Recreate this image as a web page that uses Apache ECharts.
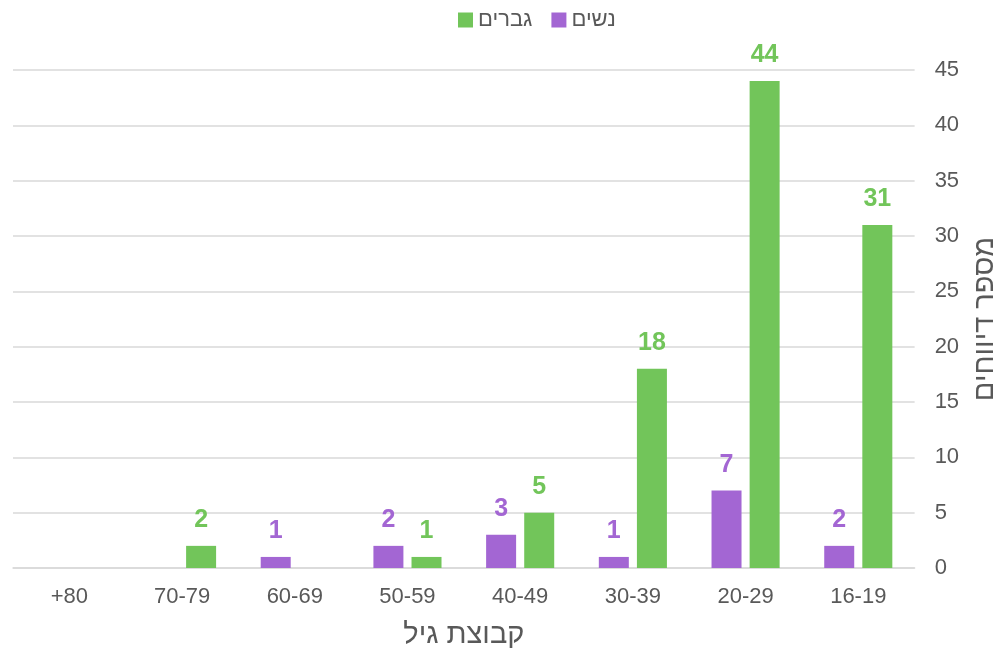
<!DOCTYPE html>
<html>
<head>
<meta charset="utf-8">
<script src="https://cdn.jsdelivr.net/npm/echarts@6/dist/echarts.min.js"></script>
<style>html,body{margin:0;padding:0;background:#fff}#c{width:1007px;height:655px}</style>
</head>
<body>
<div id="c"></div>
<script>
const categories = ['16-19', '20-29', '30-39', '40-49', '50-59', '60-69', '70-79', '+80'];
const women = [2, 7, 1, 3, 2, 1, null, null];
const men = [31, 44, 18, 5, 1, null, 2, null];
const yTicks = { min: 0, max: 45, interval: 5 };
const names = { women: 'נשים', men: 'גברים', xName: 'קבוצת גיל', yName: 'מספר דיווחים' };

const font = 'Liberation Sans, Arial, sans-serif';
const chart = echarts.init(document.getElementById('c'));
chart.setOption({
  animation: false,
  textStyle: { fontFamily: font },
  legend: {
    data: [names.men, names.women],
    top: 4, left: 453,
    icon: 'rect',
    itemWidth: 15, itemHeight: 15, itemGap: 19,
    textStyle: { fontSize: 22, color: '#595959', fontFamily: font }
  },
  grid: { left: 13, right: 90, top: 70, bottom: 87 },
  xAxis: {
    type: 'category', data: categories, inverse: true,
    axisLine: { lineStyle: { color: '#d9d9d9', width: 1.5 } },
    axisTick: { show: false },
    axisLabel: { fontSize: 22, color: '#595959', margin: 18, fontFamily: font },
    name: names.xName, nameLocation: 'middle', nameGap: 52,
    nameTextStyle: { fontSize: 29, color: '#595959', fontFamily: font }
  },
  yAxis: {
    type: 'value', position: 'right', min: yTicks.min, max: yTicks.max, interval: yTicks.interval,
    axisLine: { show: false }, axisTick: { show: false },
    splitLine: { lineStyle: { color: '#d9d9d9', width: 1.5 } },
    axisLabel: { fontSize: 22, color: '#595959', margin: 20, fontFamily: font },
    name: names.yName, nameLocation: 'middle', nameGap: 54, nameRotate: 90,
    nameTextStyle: { fontSize: 29, color: '#595959', fontFamily: font }
  },
  series: [
    {
      name: names.women, type: 'bar', data: women,
      barWidth: 30, barGap: '27%',
      itemStyle: { color: '#A366D3' },
      label: { show: true, position: 'top', distance: 13, fontSize: 25, fontWeight: 'bold', color: '#A366D3', fontFamily: font }
    },
    {
      name: names.men, type: 'bar', data: men,
      barWidth: 30, barGap: '27%',
      itemStyle: { color: '#72C55A' },
      label: { show: true, position: 'top', distance: 13, fontSize: 25, fontWeight: 'bold', color: '#72C55A', fontFamily: font }
    }
  ]
});
</script>
</body>
</html>
